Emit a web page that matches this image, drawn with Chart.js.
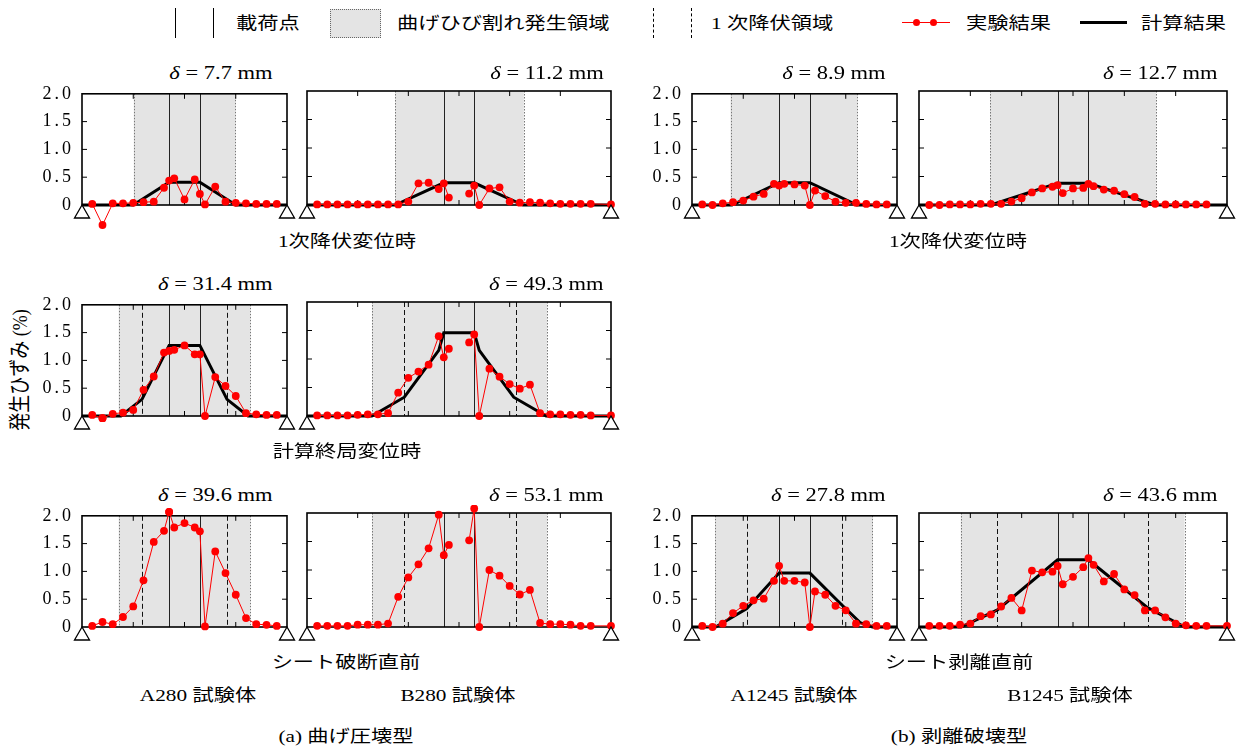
<!DOCTYPE html>
<html>
<head>
<meta charset="utf-8">
<script src="https://cdn.jsdelivr.net/npm/chart.js"></script>
<style>
body { margin: 0; background: #fff; }
#fig { position: relative; width: 1238px; height: 747px; overflow: hidden;
       font-family: "Liberation Serif", "Noto Sans CJK JP", serif; color: #000; }
#fig canvas { position: absolute; }
.t { position: absolute; white-space: nowrap; font-size: 17px; line-height: 1; }
.ln { position: absolute; }
</style>
</head>
<body>
<div id="fig"></div>
<script>
// gauge positions along the beam (mm)
const xA = [100, 200, 300, 400, 500, 600, 700, 800, 850, 900, 1000, 1100, 1150, 1200, 1300, 1400, 1500, 1600, 1700, 1800, 1900];
const xB = [100, 200, 300, 400, 500, 600, 700, 800, 900, 1000, 1100, 1200, 1300, 1350, 1400, 1500, 1600, 1650,
            1700, 1800, 1900, 2000, 2100, 2200, 2300, 2400, 2500, 2600, 2700, 2800, 3000];
const spanA = 2000, spanB = 3000;
const loadsA = [850, 1150], loadsB = [1350, 1650];
const yTicks = [0, 0.5, 1.0, 1.5, 2.0];

// measured strain (%)
const a280Yield = [0.02, -0.36, 0.03, 0.03, 0.04, 0.05, 0.06, 0.31, 0.44, 0.48, 0.10, 0.46, 0.20, 0.01, 0.33, 0.06, 0.04, 0.03, 0.02, 0.02, 0.02];
const a280Ult   = [0.02, -0.04, 0.04, 0.06, 0.11, 0.47, 0.71, 1.14, 1.17, 1.19, 1.27, 1.11, 1.11, 0.00, 0.70, 0.54, 0.36, 0.05, 0.03, 0.02, 0.02];
const a280Fail  = [0.02, 0.09, 0.05, 0.18, 0.37, 0.84, 1.53, 1.73, 2.07, 1.79, 1.87, 1.79, 1.72, 0.01, 1.36, 0.97, 0.58, 0.16, 0.05, 0.04, 0.02];
const b280Yield = [0.01, 0.01, 0.01, 0.01, 0.01, 0.01, 0.01, 0.01, 0.01, 0.06, 0.38, 0.39, 0.28, 0.38, 0.13, null, 0.20, 0.34,
                   0.00, 0.29, 0.31, 0.06, 0.04, 0.05, 0.04, 0.03, 0.02, 0.02, 0.02, 0.02, 0.01];
const b280Ult   = [0.01, 0.01, 0.01, 0.01, 0.02, 0.03, 0.03, 0.05, 0.41, 0.67, 0.78, 0.90, 1.40, 1.03, 1.18, null, 1.29, 1.43,
                   0.00, 0.83, 0.69, 0.56, 0.48, 0.55, 0.05, 0.03, 0.03, 0.02, 0.02, 0.01, 0.01];
const b280Fail  = [0.02, 0.02, 0.02, 0.02, 0.04, 0.04, 0.04, 0.06, 0.53, 0.87, 1.10, 1.38, 1.97, 1.26, 1.44, null, 1.52, 2.08,
                   0.00, 1.00, 0.90, 0.72, 0.57, 0.65, 0.07, 0.05, 0.05, 0.04, 0.02, 0.02, 0.02];
const a1245Yield = [0.01, 0.00, 0.03, 0.05, 0.08, 0.15, 0.20, 0.38, 0.35, 0.38, 0.37, 0.35, 0.00, 0.26, 0.16, 0.06, 0.04, 0.04, 0.02, 0.01, 0.01];
const a1245Fail  = [0.02, 0.00, 0.06, 0.25, 0.38, 0.48, 0.51, 0.83, 1.10, 0.83, 0.83, 0.80, 0.00, 0.64, 0.58, 0.38, 0.30, 0.06, 0.05, 0.02, 0.02];
const b1245Yield = [0.00, 0.00, 0.01, 0.01, 0.01, 0.02, 0.02, 0.02, 0.06, 0.12, 0.22, 0.29, 0.32, 0.35, 0.21, 0.29, 0.30, 0.37,
                    0.33, 0.27, 0.25, 0.19, 0.14, 0.02, 0.02, 0.01, 0.01, 0.01, 0.01, 0.01, null];
const b1245Fail  = [0.02, 0.02, 0.02, 0.04, 0.06, 0.19, 0.22, 0.36, 0.51, 0.29, 0.99, 0.96, 0.97, 1.07, 0.75, 0.88, 1.05, 1.21,
                    1.09, 0.80, 0.93, 0.66, 0.56, 0.29, 0.29, 0.17, 0.06, 0.03, 0.02, 0.02, 0.02];

// calculated strain (%)
const calcA280YieldX = [0, 500, 850, 1150, 1500, 2000];
const calcA280YieldY = [0, 0, 0.41, 0.41, 0, 0];
const calcA280UltX = [0, 380, 585, 850, 1150, 1415, 1620, 2000];
const calcA280UltY = [0, 0, 0.30, 1.27, 1.27, 0.30, 0, 0];
const calcB280YieldX = [0, 870, 1350, 1650, 2130, 3000];
const calcB280YieldY = [0, 0, 0.39, 0.39, 0, 0];
const calcB280UltX = [0, 640, 960, 1300, 1350, 1650, 1700, 2040, 2360, 3000];
const calcB280UltY = [0, 0, 0.33, 1.15, 1.46, 1.46, 1.15, 0.33, 0, 0];
const calcA1245YieldX = [0, 390, 850, 1150, 1610, 2000];
const calcA1245YieldY = [0, 0, 0.40, 0.40, 0, 0];
const calcA1245FailX = [0, 230, 535, 850, 1150, 1460, 1640, 1760, 2000];
const calcA1245FailY = [0, 0, 0.33, 0.97, 0.97, 0.40, 0.08, 0, 0];
const calcB1245YieldX = [0, 700, 1350, 1650, 2300, 3000];
const calcB1245YieldY = [0, 0, 0.38, 0.38, 0, 0];
const calcB1245FailX = [0, 410, 764, 1350, 1650, 2226, 2590, 3000];
const calcB1245FailY = [0, 0, 0.30, 1.18, 1.18, 0.34, 0, 0];

// zones (mm): flexural crack zone and first yield zone
const crackA280 = [[505, 1495], [358, 1640], [358, 1640]];
const yieldA280 = [null, [585, 1415], [585, 1415]];
const crackB280 = [[870, 2140], [641, 2370], [641, 2370]];
const yieldB280 = [null, [960, 2060], [960, 2060]];
const crackA1245 = [[376, 1611], null, [227, 1760]];
const yieldA1245 = [null, null, [535, 1459]];
const crackB1245 = [[692, 2311], null, [406, 2587]];
const yieldB1245 = [null, null, [764, 2226]];

const deltaA280 = ['7.7', '31.4', '39.6'];
const deltaB280 = ['11.2', '49.3', '53.1'];
const deltaA1245 = ['8.9', null, '27.8'];
const deltaB1245 = ['12.7', null, '43.6'];

const panels = [
  { col: 0, row: 0, xs: xA, exp: a280Yield, cx: calcA280YieldX, cy: calcA280YieldY, crack: crackA280[0], yz: yieldA280[0], loads: loadsA, span: spanA, delta: deltaA280[0] },
  { col: 0, row: 1, xs: xA, exp: a280Ult, cx: calcA280UltX, cy: calcA280UltY, crack: crackA280[1], yz: yieldA280[1], loads: loadsA, span: spanA, delta: deltaA280[1] },
  { col: 0, row: 2, xs: xA, exp: a280Fail, crack: crackA280[2], yz: yieldA280[2], loads: loadsA, span: spanA, delta: deltaA280[2] },
  { col: 1, row: 0, xs: xB, exp: b280Yield, cx: calcB280YieldX, cy: calcB280YieldY, crack: crackB280[0], yz: yieldB280[0], loads: loadsB, span: spanB, delta: deltaB280[0] },
  { col: 1, row: 1, xs: xB, exp: b280Ult, cx: calcB280UltX, cy: calcB280UltY, crack: crackB280[1], yz: yieldB280[1], loads: loadsB, span: spanB, delta: deltaB280[1] },
  { col: 1, row: 2, xs: xB, exp: b280Fail, crack: crackB280[2], yz: yieldB280[2], loads: loadsB, span: spanB, delta: deltaB280[2] },
  { col: 2, row: 0, xs: xA, exp: a1245Yield, cx: calcA1245YieldX, cy: calcA1245YieldY, crack: crackA1245[0], yz: yieldA1245[0], loads: loadsA, span: spanA, delta: deltaA1245[0] },
  { col: 2, row: 2, xs: xA, exp: a1245Fail, cx: calcA1245FailX, cy: calcA1245FailY, crack: crackA1245[2], yz: yieldA1245[2], loads: loadsA, span: spanA, delta: deltaA1245[2] },
  { col: 3, row: 0, xs: xB, exp: b1245Yield, cx: calcB1245YieldX, cy: calcB1245YieldY, crack: crackB1245[0], yz: yieldB1245[0], loads: loadsB, span: spanB, delta: deltaB1245[0] },
  { col: 3, row: 2, xs: xB, exp: b1245Fail, cx: calcB1245FailX, cy: calcB1245FailY, crack: crackB1245[2], yz: yieldB1245[2], loads: loadsB, span: spanB, delta: deltaB1245[2] }
];

// layout of plot areas on the page
const colL = [82, 307, 692, 919], colR = [287, 611, 897, 1227];
const rowT = [91, 302, 513], rowB = [205, 416, 627];
const deltaRight = [273, 604, 886, 1218], deltaY = [73, 284, 495];

const fig = document.getElementById('fig');

function addText(html, x, y, align, size) {
  const d = document.createElement('div');
  d.className = 't';
  d.innerHTML = html;
  if (size) d.style.fontSize = size + 'px';
  d.style.top = y + 'px';
  if (align === 'r') {
    d.style.right = (1238 - x) + 'px';
    d.style.transformOrigin = 'right center';
    d.style.transform = 'translateY(-50%) scaleX(1.25)';
  } else if (align === 'l') {
    d.style.left = x + 'px';
    d.style.transformOrigin = 'left center';
    d.style.transform = 'translateY(-50%) scaleX(1.25)';
  } else {
    d.style.left = x + 'px';
    d.style.transform = 'translate(-50%,-50%) scaleX(1.25)';
  }
  fig.appendChild(d);
  return d;
}

function addBox(css) {
  const d = document.createElement('div');
  d.className = 'ln';
  d.style.cssText += css;
  fig.appendChild(d);
}

// zones, load lines, frame, inward ticks and supports
function beamPlugin(p) {
  return {
    id: 'beam',
    beforeDraw(chart) { chart.ctx.letterSpacing = '3px'; },
    afterDraw(chart) { chart.ctx.letterSpacing = '0px'; },
    beforeDatasetsDraw(chart) {
      const { ctx, chartArea: a, scales: { x, y } } = chart;
      const vline = (v) => {
        const px = Math.round(x.getPixelForValue(v)) + 0.5;
        ctx.beginPath(); ctx.moveTo(px, a.top); ctx.lineTo(px, a.bottom); ctx.stroke();
      };
      ctx.save();
      ctx.letterSpacing = '0px';
      const c0 = x.getPixelForValue(p.crack[0]), c1 = x.getPixelForValue(p.crack[1]);
      ctx.fillStyle = '#e4e4e4';
      ctx.fillRect(c0, a.top, c1 - c0, a.bottom - a.top);
      ctx.strokeStyle = '#777'; ctx.lineWidth = 1; ctx.setLineDash([1.5, 1.5]);
      vline(p.crack[0]); vline(p.crack[1]);
      if (p.yz) {
        ctx.strokeStyle = '#111'; ctx.setLineDash([5, 3]);
        vline(p.yz[0]); vline(p.yz[1]);
      }
      ctx.setLineDash([]); ctx.strokeStyle = '#222';
      p.loads.forEach(vline);
      // inward ticks
      ctx.strokeStyle = '#000'; ctx.lineWidth = 1;
      ctx.beginPath();
      yTicks.slice(1, -1).forEach(v => {
        const py = y.getPixelForValue(v);
        ctx.moveTo(a.left, py); ctx.lineTo(a.left + 5, py);
        ctx.moveTo(a.right, py); ctx.lineTo(a.right - 5, py);
      });
      for (let v = 500; v < p.span; v += 500) {
        const px = x.getPixelForValue(v);
        ctx.moveTo(px, a.top); ctx.lineTo(px, a.top + 5);
        ctx.moveTo(px, a.bottom); ctx.lineTo(px, a.bottom - 5);
      }
      ctx.stroke();
      ctx.lineWidth = 1.6;
      ctx.strokeRect(a.left, a.top, a.right - a.left, a.bottom - a.top);
      ctx.restore();
    },
    afterDatasetsDraw(chart) {
      const { ctx, chartArea: a, scales: { x, y } } = chart;
      // points lying outside the plot area are skipped by the line controller: draw them here
      const wide = { left: -1e4, top: -1e4, right: 1e4, bottom: 1e4 };
      chart.getDatasetMeta(0).data.forEach(el => {
        if (!el.skip && (el.y < a.top || el.y > a.bottom)) el.draw(ctx, wide);
      });
      ctx.save();
      ctx.fillStyle = '#fff'; ctx.strokeStyle = '#000'; ctx.lineWidth = 1.3;
      [0, p.span].forEach(v => {
        const px = x.getPixelForValue(v), py = y.getPixelForValue(0);
        ctx.beginPath();
        ctx.moveTo(px, py); ctx.lineTo(px - 7.5, py + 13); ctx.lineTo(px + 7.5, py + 13); ctx.closePath();
        ctx.fill(); ctx.stroke();
      });
      ctx.restore();
    }
  };
}

panels.forEach(p => {
  const L = colL[p.col], R = colR[p.col], T = rowT[p.row], B = rowB[p.row];
  const padL = 48, padR = 12, padT = 8, padB = 24;
  const cv = document.createElement('canvas');
  cv.width = R - L + padL + padR;
  cv.height = B - T + padT + padB;
  cv.style.left = (L - padL) + 'px';
  cv.style.top = (T - padT) + 'px';
  fig.appendChild(cv);

  const datasets = [{
    data: p.xs.map((x, i) => ({ x: x, y: p.exp[i] })),
    borderColor: '#ff0000', backgroundColor: '#ff0000',
    borderWidth: 1, pointRadius: 3.9, pointBorderWidth: 0, pointHoverRadius: 3.9,
    spanGaps: false, clip: false, order: 0
  }];
  if (p.cx) {
    datasets.push({
      data: p.cx.map((x, i) => ({ x: x, y: p.cy[i] })),
      borderColor: '#000', borderWidth: 3, pointRadius: 0, clip: false, order: 1
    });
  }

  new Chart(cv, {
    type: 'line',
    data: { datasets: datasets },
    options: {
      responsive: false, animation: false, events: [],
      layout: { padding: { left: 0, right: padR, top: padT, bottom: padB } },
      plugins: { legend: { display: false }, tooltip: { enabled: false } },
      scales: {
        x: { type: 'linear', min: 0, max: p.span, display: false },
        y: {
          min: 0, max: 2,
          afterFit: s => { s.width = padL; },
          grid: { display: false }, border: { display: false },
          ticks: {
            display: p.col === 0 || p.col === 2, stepSize: 0.5, padding: 0, color: '#000',
            font: { family: 'Liberation Serif', size: 18 },
            callback: v => v === 0 ? '0' : v.toFixed(1)
          }
        }
      }
    },
    plugins: [beamPlugin(p)]
  });

  addText('<i>δ</i> = ' + p.delta + ' mm', deltaRight[p.col], deltaY[p.row], 'r', 18);
});

// captions
addText('1次降伏変位時', 347, 241);
addText('1次降伏変位時', 958, 241);
addText('計算終局変位時', 347, 451);
addText('シート破断直前', 346, 662);
addText('シート剥離直前', 959, 662);
addText('A280 試験体', 198, 695);
addText('B280 試験体', 458, 695);
addText('A1245 試験体', 794, 695);
addText('B1245 試験体', 1070, 695);
addText('(a) 曲げ圧壊型', 346, 736);
addText('(b) 剥離破壊型', 959, 736);

// y-axis title
const yt = document.createElement('div');
yt.className = 't';
yt.textContent = '発生ひずみ (%)';
yt.style.fontSize = '18px';
yt.style.left = '20px';
yt.style.top = '370px';
yt.style.transform = 'translate(-50%,-50%) rotate(-90deg) scaleY(1.2)';
fig.appendChild(yt);

// legend
addBox('left:175px;top:8px;height:30px;border-left:1px solid #000;');
addBox('left:213px;top:8px;height:30px;border-left:1px solid #000;');
addText('載荷点', 236, 23, 'l');
addBox('left:330px;top:9px;width:49px;height:27px;background:#e4e4e4;border:1px dotted #666;');
addText('曲げひび割れ発生領域', 397, 23, 'l');
addBox('left:653px;top:8px;height:30px;border-left:1px dashed #000;');
addBox('left:691px;top:8px;height:30px;border-left:1px dashed #000;');
addText('1 次降伏領域', 711, 23, 'l');
addBox('left:902px;top:22px;width:48px;border-top:1px solid #f00;');
addBox('left:913px;top:19px;width:7px;height:7px;border-radius:50%;background:#f00;');
addBox('left:930px;top:19px;width:7px;height:7px;border-radius:50%;background:#f00;');
addText('実験結果', 966, 23, 'l');
addBox('left:1080px;top:21px;width:47px;height:3px;background:#000;');
addText('計算結果', 1141, 23, 'l');
</script>
</body>
</html>
